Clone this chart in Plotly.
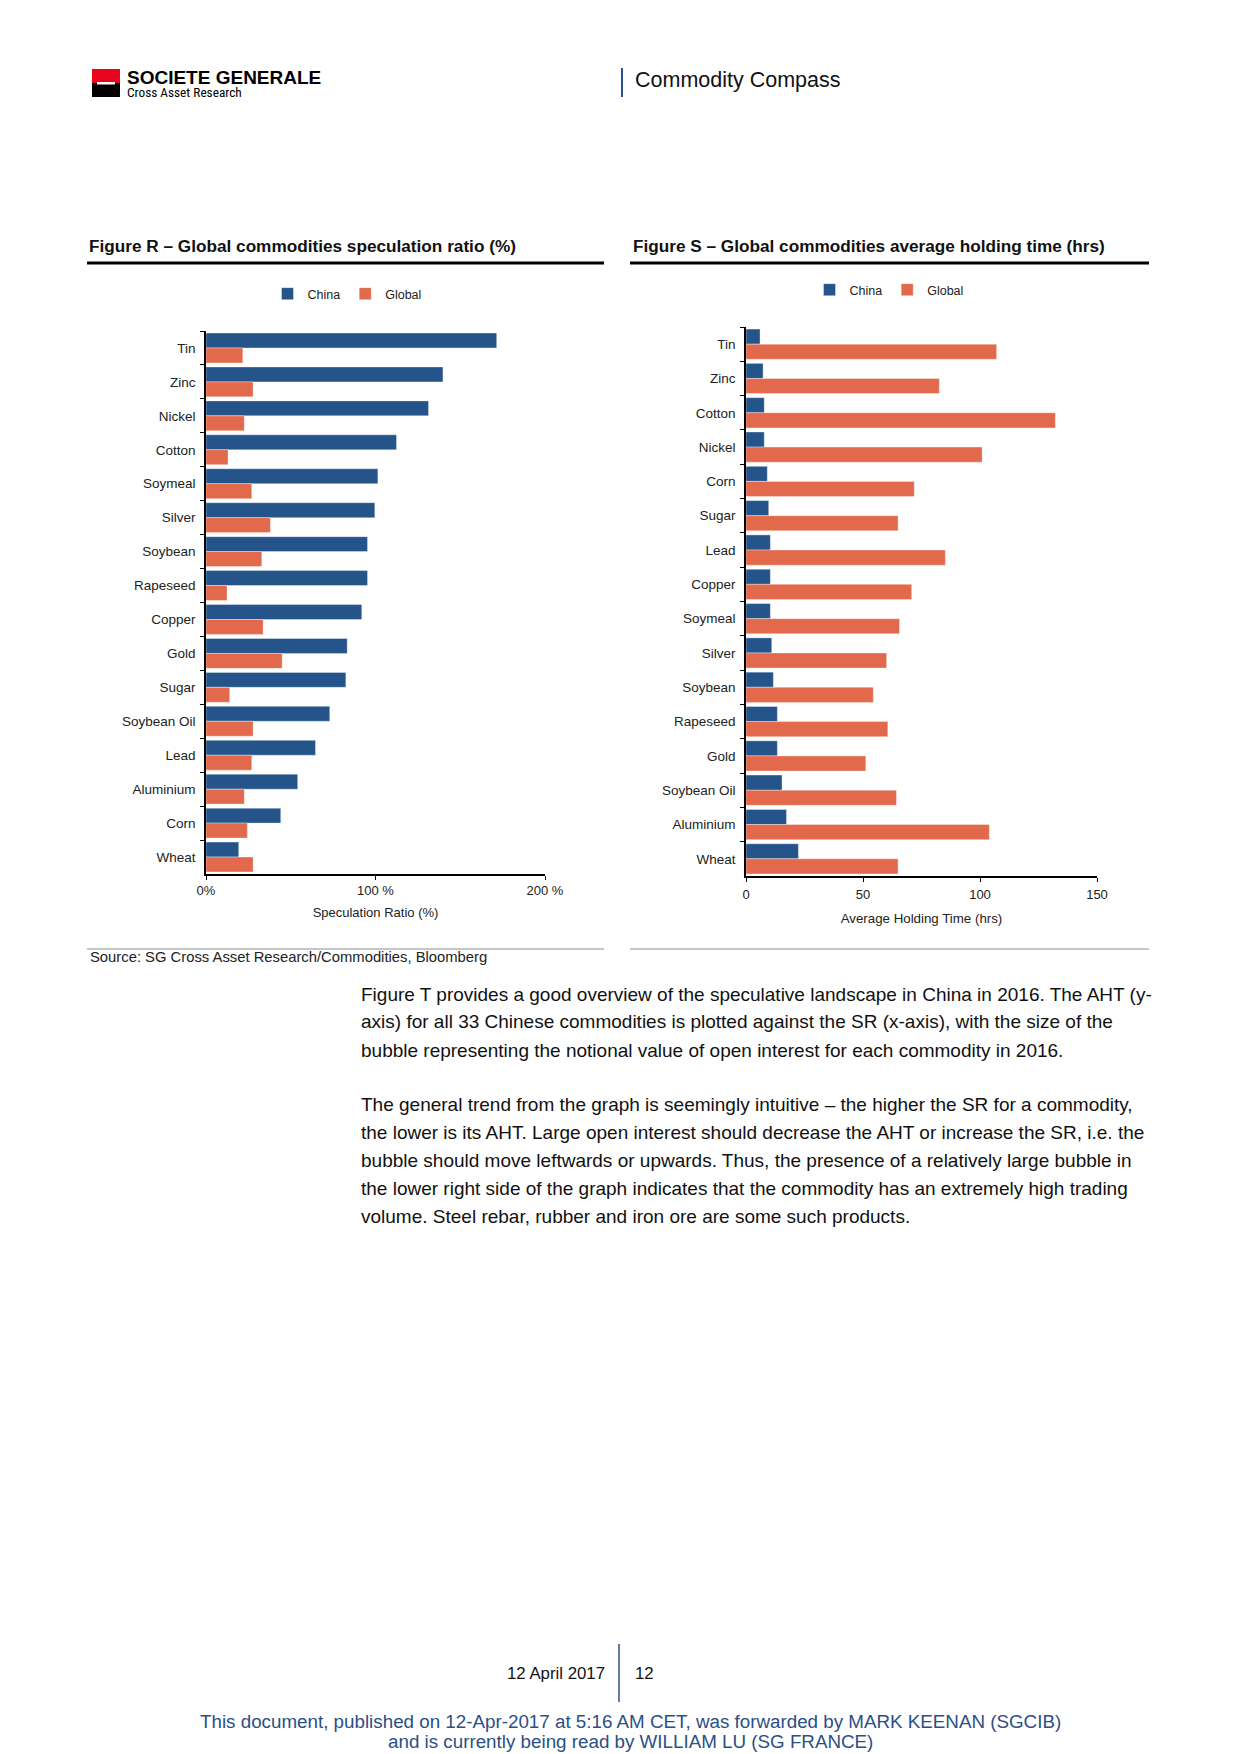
import plotly.graph_objects as go

W, H = 1240, 1754

# ---------------- data ----------------
categories_sr = ["Tin", "Zinc", "Nickel", "Cotton", "Soymeal", "Silver", "Soybean", "Rapeseed",
                 "Copper", "Gold", "Sugar", "Soybean Oil", "Lead", "Aluminium", "Corn", "Wheat"]
china_sr = [171.5, 139.8, 131.3, 112.4, 101.4, 99.6, 95.3, 95.3, 91.9, 83.3, 82.5, 73.0, 64.6, 54.1, 44.1, 19.3]
global_sr = [21.7, 27.8, 22.6, 13.0, 27.0, 38.0, 32.9, 12.4, 33.7, 44.9, 14.0, 27.8, 27.0, 22.6, 24.4, 27.8]

categories_aht = ["Tin", "Zinc", "Cotton", "Nickel", "Corn", "Sugar", "Lead", "Copper",
                  "Soymeal", "Silver", "Soybean", "Rapeseed", "Gold", "Soybean Oil", "Aluminium", "Wheat"]
china_aht = [6.0, 7.3, 7.8, 7.8, 9.1, 9.7, 10.4, 10.4, 10.4, 11.0, 11.7, 13.4, 13.4, 15.4, 17.3, 22.4]
global_aht = [107.1, 82.6, 132.2, 100.9, 71.9, 65.0, 85.2, 70.8, 65.6, 60.1, 54.4, 60.6, 51.2, 64.3, 104.0, 65.0]

sr_tickvals = [0, 100, 200]
sr_ticktext = ["0%", "100 %", "200 %"]
aht_tickvals = [0, 50, 100, 150]
aht_ticktext = ["0", "50", "100", "150"]

body_lines_1 = [
    "Figure T provides a good overview of the speculative landscape in China in 2016. The AHT (y-",
    "axis) for all 33 Chinese commodities is plotted against the SR (x-axis), with the size of the",
    "bubble representing the notional value of open interest for each commodity in 2016.",
]
body_lines_2 = [
    "The general trend from the graph is seemingly intuitive \u2013 the higher the SR for a commodity,",
    "the lower is its AHT. Large open interest should decrease the AHT or increase the SR, i.e. the",
    "bubble should move leftwards or upwards. Thus, the presence of a relatively large bubble in",
    "the lower right side of the graph indicates that the commodity has an extremely high trading",
    "volume. Steel rebar, rubber and iron ore are some such products.",
]

CHINA = "#24548A"
GLOBAL = "#E2694B"
EDGE = "rgba(255,255,255,0.45)"
FONT = "Liberation Sans, Arial, sans-serif"


def px(x):
    return x / W


def py(y):
    return 1 - y / H


fig = go.Figure()

fig.add_trace(go.Bar(y=categories_sr, x=china_sr, orientation="h", name="China",
                     marker=dict(color=CHINA, line=dict(width=0.8, color=EDGE)),
                     xaxis="x", yaxis="y", legend="legend"))
fig.add_trace(go.Bar(y=categories_sr, x=global_sr, orientation="h", name="Global",
                     marker=dict(color=GLOBAL, line=dict(width=0.8, color=EDGE)),
                     xaxis="x", yaxis="y", legend="legend"))
fig.add_trace(go.Bar(y=categories_aht, x=china_aht, orientation="h", name="China",
                     marker=dict(color=CHINA, line=dict(width=0.8, color=EDGE)),
                     xaxis="x2", yaxis="y2", legend="legend2"))
fig.add_trace(go.Bar(y=categories_aht, x=global_aht, orientation="h", name="Global",
                     marker=dict(color=GLOBAL, line=dict(width=0.8, color=EDGE)),
                     xaxis="x2", yaxis="y2", legend="legend2"))

tickfont = dict(family=FONT, size=13, color="#222222")
ytickfont = dict(family=FONT, size=13.5, color="#222222")
common_x = dict(showgrid=False, zeroline=False, showline=True, linecolor="black", linewidth=1.6,
                ticks="outside", ticklen=4, tickwidth=1.2, tickcolor="black", tickfont=tickfont)
common_y = dict(showgrid=False, zeroline=False, showline=True, linecolor="black", linewidth=1.6,
                ticks="outside", ticklen=4, tickwidth=1.2, tickcolor="black", tickfont=ytickfont,
                tickson="boundaries", type="category", autorange="reversed", ticklabelstandoff=6)

fig.update_layout(
    width=W, height=H, autosize=False,
    margin=dict(l=0, r=0, t=0, b=0, pad=0, autoexpand=False),
    paper_bgcolor="white", plot_bgcolor="white",
    barmode="group", bargap=0.12, bargroupgap=0,
    font=dict(family=FONT, color="#222222"),
    xaxis=dict(domain=[px(206), px(545)], range=[0, 200], anchor="y",
               tickvals=sr_tickvals, ticktext=sr_ticktext,
               title=dict(text="Speculation Ratio (%)", font=dict(family=FONT, size=13, color="#222222"), standoff=10),
               **common_x),
    yaxis=dict(domain=[py(874), py(331)], anchor="x", **common_y),
    xaxis2=dict(domain=[px(746), px(1097)], range=[0, 150], anchor="y2",
                tickvals=aht_tickvals, ticktext=aht_ticktext, ticklabelstandoff=2,
                title=dict(text="Average Holding Time (hrs)", font=dict(family=FONT, size=13.3, color="#222222"), standoff=12),
                **common_x),
    yaxis2=dict(domain=[py(876), py(327)], anchor="x2", **common_y),
    legend=dict(orientation="h", x=px(347), y=py(294), xanchor="center", yanchor="middle",
                font=dict(family=FONT, size=12.5, color="#222222"), itemwidth=30,
                bgcolor="rgba(0,0,0,0)", traceorder="normal"),
    legend2=dict(orientation="h", x=px(889), y=py(290), xanchor="center", yanchor="middle",
                 font=dict(family=FONT, size=12.5, color="#222222"), itemwidth=30,
                 bgcolor="rgba(0,0,0,0)", traceorder="normal"),
)

shapes = []
# logo
shapes.append(dict(type="rect", xref="paper", yref="paper", x0=px(92), x1=px(120), y0=py(83), y1=py(69),
                   fillcolor="#E9041E", line=dict(width=0)))
shapes.append(dict(type="rect", xref="paper", yref="paper", x0=px(92), x1=px(120), y0=py(97), y1=py(83),
                   fillcolor="black", line=dict(width=0)))
shapes.append(dict(type="rect", xref="paper", yref="paper", x0=px(97), x1=px(115), y0=py(84.5), y1=py(82),
                   fillcolor="white", line=dict(width=0)))
# header vertical line
shapes.append(dict(type="line", xref="paper", yref="paper", x0=px(622), x1=px(622), y0=py(68), y1=py(97),
                   line=dict(color="#2B4F86", width=2)))
# title rules
shapes.append(dict(type="line", xref="paper", yref="paper", x0=px(87), x1=px(604), y0=py(263), y1=py(263),
                   line=dict(color="black", width=3)))
shapes.append(dict(type="line", xref="paper", yref="paper", x0=px(630), x1=px(1149), y0=py(263), y1=py(263),
                   line=dict(color="black", width=3)))
# bottom grey rules
shapes.append(dict(type="line", xref="paper", yref="paper", x0=px(87), x1=px(604), y0=py(949), y1=py(949),
                   line=dict(color="#8C8C8C", width=1)))
shapes.append(dict(type="line", xref="paper", yref="paper", x0=px(630), x1=px(1149), y0=py(949), y1=py(949),
                   line=dict(color="#8C8C8C", width=1)))
# footer vertical line
shapes.append(dict(type="line", xref="paper", yref="paper", x0=px(619), x1=px(619), y0=py(1644), y1=py(1702),
                   line=dict(color="#2B4F86", width=1.5)))
fig.update_layout(shapes=shapes)

ann = []


def text(x, y, s, size, xanchor="left", color="#111111", bold=False, family=FONT):
    ann.append(dict(xref="paper", yref="paper", x=px(x), y=py(y), text=(f"<b>{s}</b>" if bold else s),
                    showarrow=False, xanchor=xanchor, yanchor="middle",
                    font=dict(family=family, size=size, color=color)))


text(125, 77, "SOCIETE GENERALE", 19, bold=True, color="black")
text(125, 92, "Cross Asset Research", 13.3, color="black", family="Roboto Condensed, Liberation Sans Narrow, Liberation Sans, sans-serif")
text(633, 80, "Commodity Compass", 21.5, color="#111111")

text(87, 246, "Figure R \u2013 Global commodities speculation ratio (%)", 17.2, bold=True, color="#111111")
text(631, 246, "Figure S \u2013 Global commodities average holding time (hrs)", 17.2, bold=True, color="#111111")

text(88, 957, "Source: SG Cross Asset Research/Commodities, Bloomberg", 14.8, color="#222222")

y0 = 994
for i, line in enumerate(body_lines_1):
    text(359, y0 + 28 * i, line, 19, color="#111111")
y0 = 1104
for i, line in enumerate(body_lines_2):
    text(359, y0 + 28 * i, line, 19, color="#111111")

text(607, 1673, "12 April 2017", 16.8, xanchor="right", color="#111111")
text(633, 1673, "12", 16.8, color="#111111")

text(630, 1721, "This document, published on 12-Apr-2017 at 5:16 AM CET, was forwarded by MARK KEENAN (SGCIB)",
     18.8, xanchor="center", color="#2B4F86")
text(630, 1741, "and is currently being read by WILLIAM LU (SG FRANCE)", 18.8, xanchor="center", color="#2B4F86")

fig.update_layout(annotations=ann)

fig.write_html(
    "out.html",
    config={"responsive": False, "displayModeBar": False},
    post_script="document.body.style.margin='0';document.body.style.overflow='hidden';",
)
